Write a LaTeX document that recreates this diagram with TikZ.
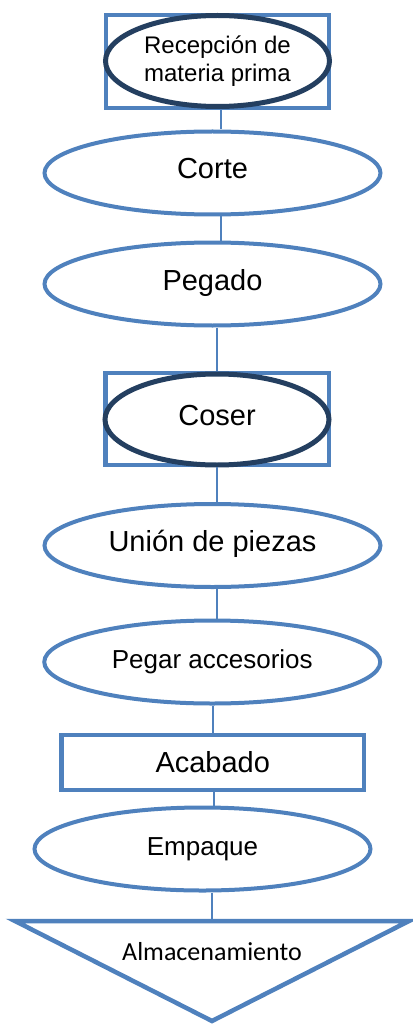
\documentclass[tikz,border=0pt]{standalone}
\usepackage{fontspec}
\setmainfont{Liberation Sans}
\newfontfamily\calib{Carlito}
\usetikzlibrary{shapes.geometric}
\definecolor{boxblue}{HTML}{4F81BD}
\definecolor{navy}{HTML}{243F60}
\begin{document}
\begin{tikzpicture}[x=1pt,y=-1pt,
  blueell/.style={ellipse, draw=boxblue, line width=4pt, fill=white, inner sep=0pt,
    minimum width=336pt, minimum height=83pt, text height=20pt, text depth=8pt},
  darkell/.style={ellipse, draw=navy, line width=5pt, fill=white, inner sep=0pt,
    minimum width=224pt, minimum height=91pt},
  bluebox/.style={rectangle, draw=boxblue, line width=4.5pt, fill=white, inner sep=0pt},
  link/.style={draw=boxblue, line width=1.8pt},
  big/.style={font=\fontsize{29}{34}\selectfont},
  mid/.style={font=\fontsize{26}{30}\selectfont}]
\useasboundingbox (0,0) rectangle (412,1024);

% shapes
\node[bluebox, minimum width=223pt, minimum height=93pt] (recbox) at (217.5,61.5) {};
\node[darkell, align=center, font=\fontsize{24}{28}\selectfont] (rec) at (217.5,61) {Recepción de\\materia prima};
\node[blueell, big] (corte) at (212.5,173) {Corte};
\node[blueell, big] (pegado) at (212.5,284) {Pegado};
\node[bluebox, minimum width=223.5pt, minimum height=92pt] (coserbox) at (217.25,419) {};
\node[darkell, big, text height=20pt, text depth=8pt] (coser) at (217,419.5) {Coser};
\node[blueell, big] (union) at (212.5,545.5) {Unión de piezas};
\node[blueell, mid] (pegar) at (212.25,662) {Pegar accesorios};
\node[bluebox, big, minimum width=302.5pt, minimum height=55pt] (acabado) at (212.75,762.5) {Acabado};
\node[blueell, mid] (empaque) at (202.5,849) {Empaque};
\coordinate (tl) at (15,921);
\coordinate (tr) at (409,921);
\coordinate (tb) at (212,1021);
\draw[boxblue, line width=4.5pt, fill=white] (tl) -- (tr) -- (tb) -- cycle;
\node[anchor=base, font=\calib\fontsize{26}{30}\selectfont] (alm) at (212,960) {Almacenamiento};
\coordinate (tritop) at (212,921);

% connectors
\coordinate (k1) at (221,0);
\coordinate (k2) at (217,0);
\coordinate (k3) at (213,0);
\coordinate (k4) at (214,0);
\coordinate (k5) at (212,0);
\draw[link] (recbox.south -| k1) -- (corte.north -| k1);
\draw[link] (corte.south -| k1) -- (pegado.north -| k1);
\draw[link] (pegado.south -| k2) -- (coserbox.north -| k2);
\draw[link] (coserbox.south -| k2) -- (union.north -| k2);
\draw[link] (union.south -| k2) -- (pegar.north -| k2);
\draw[link] (pegar.south -| k3) -- (acabado.north -| k3);
\draw[link] (acabado.south -| k4) -- (empaque.north -| k4);
\draw[link] (empaque.south -| k5) -- (tritop);
\end{tikzpicture}
\end{document}
